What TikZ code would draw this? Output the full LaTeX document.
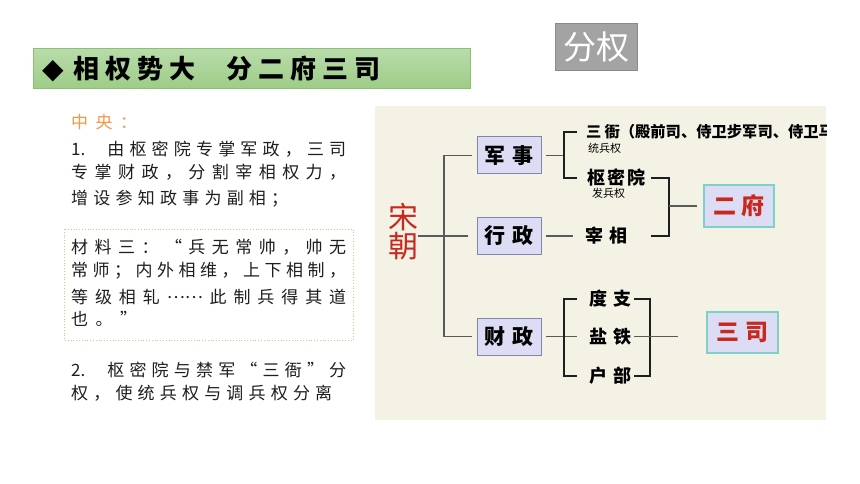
\documentclass[tikz,border=0pt]{standalone}
\usepackage{fontspec}
\setmainfont{Noto Sans CJK SC}
\newfontfamily\titlefont[LetterSpace=23]{Noto Sans CJK SC}
\newfontfamily\dvfont{DejaVu Sans}
\definecolor{bgbeige}{HTML}{F4F2E4}
\definecolor{linegray}{HTML}{5A5A5A}
\definecolor{boxfill}{HTML}{DCDDF4}
\definecolor{boxedge}{HTML}{7F86B0}
\definecolor{tealedge}{HTML}{7FD0C8}
\definecolor{redtxt}{HTML}{C8281E}
\definecolor{orangetxt}{HTML}{F79646}
\definecolor{bodytxt}{HTML}{1E1E1E}
\definecolor{greentop}{HTML}{B8DCAA}
\definecolor{greenbot}{HTML}{9ECC87}
\definecolor{greenedge}{HTML}{8CBF74}
\definecolor{grayfill}{HTML}{A3A3A3}
\definecolor{grayedge}{HTML}{8A8A8A}
\def\spreadfirst#1{#1\spreadrest}
\def\spreadrest#1{\ifx\relax#1\else\hfil#1\expandafter\spreadrest\fi}
\newcommand\myell{\raisebox{5pt}{……}}
\newcommand\spreadline[2]{\makebox[#1][s]{\spreadfirst#2\relax}}
\tikzset{
  conn/.style={draw=linegray, line width=1.3pt},
  brk/.style={draw=black!88, line width=1.6pt},
  catbox/.style={draw=boxedge, fill=boxfill, line width=1pt, minimum width=64pt, minimum height=37pt, inner sep=0pt, font=\bfseries\fontsize{21}{21}\selectfont},
  fubox/.style={draw=tealedge, fill=boxfill, line width=1.3pt, minimum width=70pt, minimum height=42pt, inner sep=0pt, text=redtxt, font=\bfseries\fontsize{23}{23}\selectfont},
  lbl/.style={anchor=west, inner sep=0pt, font=\bfseries\fontsize{18}{18}\selectfont},
  smalllbl/.style={anchor=west, inner sep=0pt, font=\fontsize{11}{11}\selectfont},
  body/.style={anchor=west, inner sep=0pt, text=bodytxt, font=\fontsize{17}{17}\selectfont},
}
\begin{document}
\begin{tikzpicture}[x=1pt,y=-1pt]
\useasboundingbox (0,0) rectangle (860,484);
\fill[white] (0,0) rectangle (860,484);

% title bar
\shade[top color=greentop, bottom color=greenbot] (33,49) rectangle (470,89);
\draw[greenedge, line width=1pt] (33,49) rectangle (470,89);
\node[anchor=west, inner sep=0pt] (title) at (42,69) {{\dvfont\fontsize{28}{28}\selectfont ◆}\hspace{10pt}{\titlefont\bfseries\fontsize{26}{26}\selectfont 相权势大\hspace{31pt}分二府三司}};

% gray box
\node[fill=grayfill, draw=grayedge, line width=1pt, minimum width=82pt, minimum height=47pt, inner sep=0pt, text=white, font=\fontsize{33}{33}\selectfont] (fq) at (596,47.5) {分权};

% left text
\node[body, text=orangetxt] (l0) at (71,122) {\spreadline{66pt}{中央：}};
\node[body] (l1) at (71,149) {\makebox[275pt][s]{1.\hspace{22pt}\spreadfirst 由枢密院专掌军政，三司\relax}};
\node[body] (l2) at (71,172) {\spreadline{275pt}{专掌财政，分割宰相权力，}};
\node[body] (l3) at (71,199) {\spreadline{217pt}{增设参知政事为副相；}};
\draw[orangetxt!70, dotted, line width=0.8pt] (64,229) rectangle (353,340);
\node[body] (m1) at (71,247) {\spreadline{275pt}{材料三：“兵无常帅，帅无}};
\node[body] (m2) at (71,271) {\spreadline{275pt}{常师；内外相维，上下相制，}};
\node[body] (m3) at (71,297) {\spreadline{275pt}{等级相轧\myell 此制兵得其道}};
\node[body] (m4) at (71,319) {\spreadline{66pt}{也。”}};
\node[body] (n1) at (71,370) {\makebox[275pt][s]{2.\hspace{22pt}\spreadfirst 枢密院与禁军“三衙”分\relax}};
\node[body] (n2) at (71,393) {\spreadline{261pt}{权，使统兵权与调兵权分离}};

% diagram
\begin{scope}
\clip (375,106) rectangle (826,420);
\fill[bgbeige] (375,106) rectangle (826,420);

\node[inner sep=0pt, align=center, text=redtxt, font=\fontsize{30}{29}\selectfont] (song) at (403,232) {宋\\朝};

\node[catbox] (jun) at (509,155.5) {军\hspace{8pt}事};
\node[catbox] (xing) at (509,236) {行\hspace{8pt}政};
\node[catbox] (cai) at (509,336.5) {财\hspace{8pt}政};

\node[lbl, font=\bfseries\fontsize{15.3}{15.3}\selectfont] (sanya) at (586,132) {三\hspace{3pt}衙（殿前司、侍卫步军司、侍卫马};
\node[smalllbl] (tongbing) at (588,148) {统兵权};
\node[lbl] (shumi) at (587,178) {枢\hspace{2pt}密\hspace{2pt}院};
\node[smalllbl] (fabing) at (592,193) {发兵权};
\node[lbl] (zai) at (585,236) {宰\hspace{6pt}相};

\node[fubox] (erfu) at (739,206) {二\hspace{6pt}府};

\node[lbl] (duzhi) at (589,299) {度\hspace{6pt}支};
\node[lbl] (yantie) at (589,336.5) {盐\hspace{6pt}铁};
\node[lbl] (hubu) at (589,376) {户\hspace{6pt}部};

\node[fubox, minimum width=71pt, minimum height=41pt] (sansi) at (742.5,332.5) {三\hspace{6pt}司};

\coordinate (tk) at (444,0);
\coordinate (b1) at (564,0);
\coordinate (b2) at (669,0);
\coordinate (b3) at (564,0);
\coordinate (b4) at (650,0);
\coordinate (e1) at (573,0);
\coordinate (e2) at (577,0);
\coordinate (e3) at (678,0);

\draw[conn] (song.east |- xing.west) -- ([xshift=-9pt]xing.west);
\draw[conn] ([xshift=-5pt]jun.west) -- (tk |- jun.west) -- (tk |- cai.west) -- ([xshift=-5pt]cai.west);
\draw[conn] ([xshift=4pt]jun.east) -- (b1 |- jun.east);
\draw[brk] ([xshift=-9pt]sanya.west) -- (b1 |- sanya.west) -- (b1 |- shumi.west) -- ([xshift=-10pt]shumi.west);
\draw[brk] ([xshift=6pt]shumi.east) -- (b2 |- shumi.east) -- (b2 |- zai.east) -- ([xshift=24pt]zai.east);
\draw[conn] (b2 |- erfu.west) -- ([xshift=-6pt]erfu.west);
\draw[conn] ([xshift=4pt]xing.east) -- (e1 |- xing.east);
\draw[conn] ([xshift=4pt]cai.east) -- (e2 |- cai.east);
\draw[brk] ([xshift=-12pt]duzhi.west) -- (b3 |- duzhi.west) -- (b3 |- hubu.west) -- ([xshift=-12pt]hubu.west);
\draw[brk] ([xshift=3pt]duzhi.east) -- (b4 |- duzhi.east) -- (b4 |- hubu.east) -- ([xshift=3pt]hubu.east);
\draw[conn] ([xshift=3pt]yantie.east) -- (e3 |- yantie.east);
\end{scope}
\end{tikzpicture}
\end{document}
